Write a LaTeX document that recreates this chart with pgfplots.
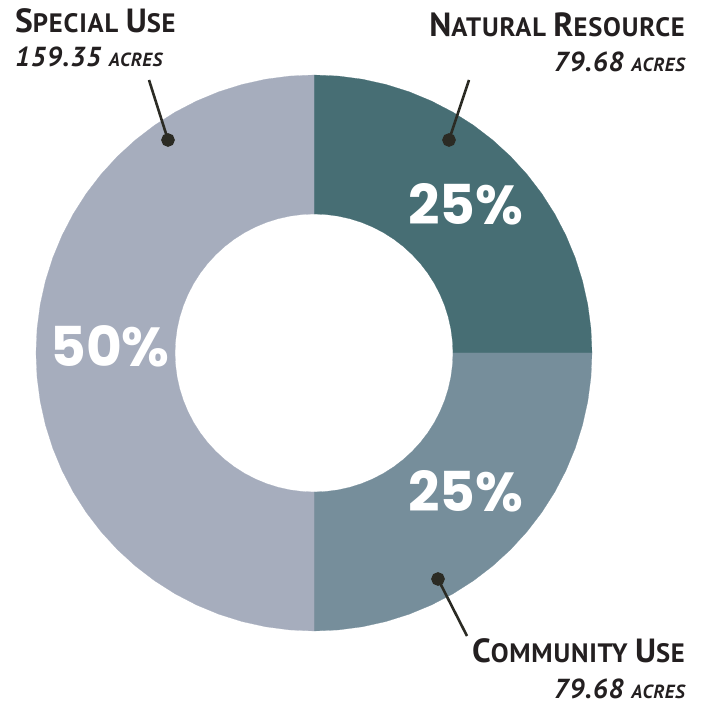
\documentclass[border=0pt]{standalone}
\usepackage{pgfplots}
\pgfplotsset{compat=1.18}
\usepackage{fontspec}
\setmainfont{PT Sans}[LetterSpace=3]
\newfontfamily\pctfont{Poppins}[UprightFont=* Bold]

\definecolor{natres}{HTML}{476E74}
\definecolor{commuse}{HTML}{768E9B}
\definecolor{specuse}{HTML}{A6ADBD}
\definecolor{ink}{HTML}{231F20}
\definecolor{leader}{HTML}{2B2B24}

% fake small caps: big initial, smaller capitals
\newcommand\scw[2]{{\fontsize{33.5}{33}\selectfont #1}{\fontsize{26.6}{26}\selectfont #2}}
\newcommand\lab[1]{{\bfseries\fontsize{26.6}{26}\selectfont #1}}
\newcommand\acres[1]{{\bfseries\itshape\fontsize{27.5}{28}\selectfont #1\ {\fontsize{19}{19}\selectfont ACRES}}}
\newcommand\pct[1]{{\pctfont\fontsize{55}{55}\selectfont #1}}

\begin{document}
\begin{tikzpicture}
\begin{axis}[
  scale only axis,
  width=705pt, height=709pt,
  xmin=-314, xmax=391, ymin=-356, ymax=353,
  hide axis, clip=false,
]
% Natural Resource, 25% (79.68 acres)
\addplot[fill=natres, draw=natres, line width=0.2pt, data cs=polar] coordinates {
 (90,278) (85,278) (80,278) (75,278) (70,278) (65,278) (60,278) (55,278) (50,278) (45,278)
 (40,278) (35,278) (30,278) (25,278) (20,278) (15,278) (10,278) (5,278) (0,278)
 (0,139) (5,139) (10,139) (15,139) (20,139) (25,139) (30,139) (35,139) (40,139) (45,139)
 (50,139) (55,139) (60,139) (65,139) (70,139) (75,139) (80,139) (85,139) (90,139)
} -- cycle;
% Community Use, 25% (79.68 acres)
\addplot[fill=commuse, draw=commuse, line width=0.2pt, data cs=polar] coordinates {
 (0,278) (-5,278) (-10,278) (-15,278) (-20,278) (-25,278) (-30,278) (-35,278) (-40,278) (-45,278)
 (-50,278) (-55,278) (-60,278) (-65,278) (-70,278) (-75,278) (-80,278) (-85,278) (-90,278)
 (-90,139) (-85,139) (-80,139) (-75,139) (-70,139) (-65,139) (-60,139) (-55,139) (-50,139) (-45,139)
 (-40,139) (-35,139) (-30,139) (-25,139) (-20,139) (-15,139) (-10,139) (-5,139) (0,139)
} -- cycle;
% Special Use, 50% (159.35 acres)
\addplot[fill=specuse, draw=specuse, line width=0.2pt, data cs=polar] coordinates {
 (90,278) (95,278) (100,278) (105,278) (110,278) (115,278) (120,278) (125,278) (130,278) (135,278)
 (140,278) (145,278) (150,278) (155,278) (160,278) (165,278) (170,278) (175,278) (180,278)
 (185,278) (190,278) (195,278) (200,278) (205,278) (210,278) (215,278) (220,278) (225,278)
 (230,278) (235,278) (240,278) (245,278) (250,278) (255,278) (260,278) (265,278) (270,278)
 (270,139) (265,139) (260,139) (255,139) (250,139) (245,139) (240,139) (235,139) (230,139)
 (225,139) (220,139) (215,139) (210,139) (205,139) (200,139) (195,139) (190,139) (185,139)
 (180,139) (175,139) (170,139) (165,139) (160,139) (155,139) (150,139) (145,139) (140,139)
 (135,139) (130,139) (125,139) (120,139) (115,139) (110,139) (105,139) (100,139) (95,139) (90,139)
} -- cycle;

% leader lines
\addplot[leader, line width=2.6pt, mark=*, mark indices={2}, mark size=5.5pt] coordinates {(-165,273) (-146,213)};
\addplot[leader, line width=2.6pt, mark=*, mark indices={2}, mark size=5.5pt] coordinates {(155,273) (135,213)};
\addplot[leader, line width=2.6pt, mark=*, mark indices={1}, mark size=5.5pt] coordinates {(124,-226) (153,-283)};

% percentages
\node[white, anchor=base] at (axis cs:152,128) {\pct{25\%}};
\node[white, anchor=base] at (axis cs:-204,-14) {\pct{50\%}};
\node[white, anchor=base] at (axis cs:152,-159) {\pct{25\%}};

% labels
\node[ink, anchor=base west, inner sep=0pt] at (axis cs:-299,320) {\lab{\scw{S}{PECIAL} \scw{U}{SE}}};
\node[ink, anchor=base west, inner sep=0pt] at (axis cs:-299,286) {\acres{159.35}};
\node[ink, anchor=base east, inner sep=0pt] at (axis cs:371,316) {\lab{\scw{N}{ATURAL} \scw{R}{ESOURCE}}};
\node[ink, anchor=base east, inner sep=0pt] at (axis cs:371,281) {\acres{79.68}};
\node[ink, anchor=base east, inner sep=0pt] at (axis cs:371,-310) {\lab{\scw{C}{OMMUNITY} \scw{U}{SE}}};
\node[ink, anchor=base east, inner sep=0pt] at (axis cs:371,-346) {\acres{79.68}};
\end{axis}
\pgfresetboundingbox
\path (0,0) rectangle (705pt,709pt);
\end{tikzpicture}
\end{document}
